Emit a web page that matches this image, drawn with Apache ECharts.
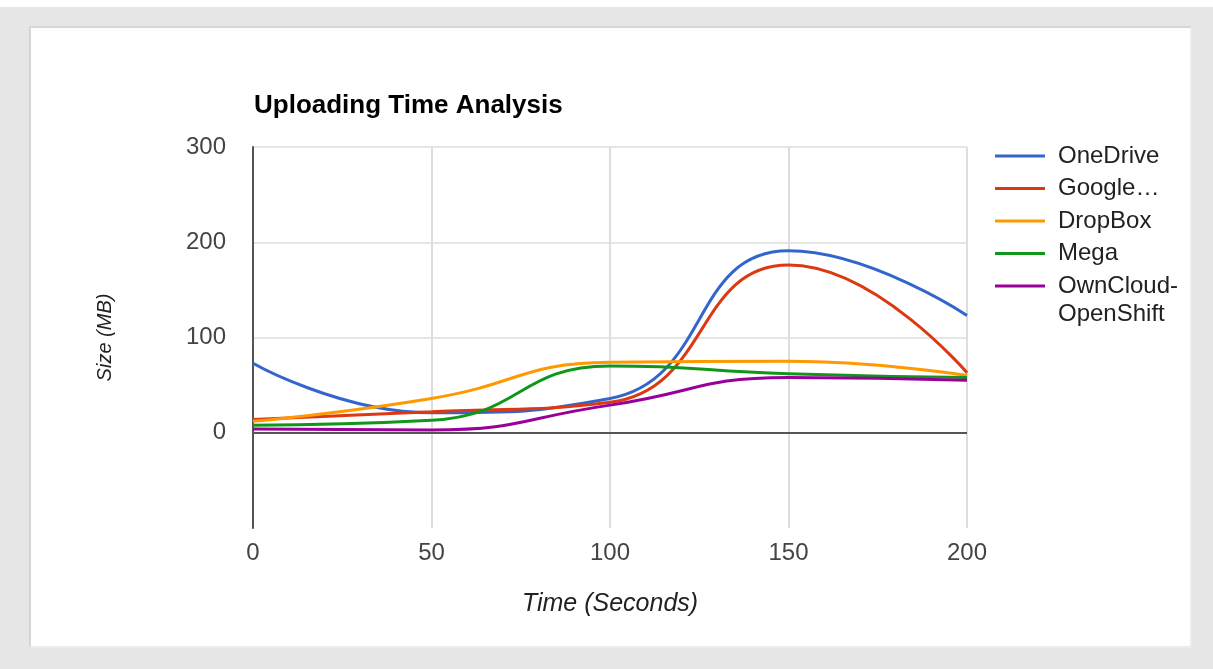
<!DOCTYPE html>
<html>
<head>
<meta charset="utf-8">
<script src="https://cdn.jsdelivr.net/npm/echarts@6/dist/echarts.min.js"></script>
<style>
  html, body { margin: 0; padding: 0; width: 1213px; height: 669px; background: #e6e6e6; overflow: hidden; }
  #topstrip { position: absolute; left: 0; top: 0; width: 1213px; height: 7px; background: #ffffff; }
  #panel { position: absolute; left: 29px; top: 26px; width: 1159px; height: 618px; background: #ffffff; border: 2px solid #d6d6d6; border-right-color: #ececec; border-bottom-color: #ececec; }
  #chart { position: absolute; left: 0; top: 0; width: 1213px; height: 669px; }
</style>
</head>
<body>
<div id="topstrip"></div>
<div id="panel"></div>
<div id="chart"></div>
<script>
const timeSeconds = [0, 50, 100, 150, 200];
const seriesNames = ['OneDrive', 'Google Drive', 'DropBox', 'Mega', 'OwnCloud-OpenShift'];
const oneDrive = [73, 21, 36, 191, 123];
const googleDrive = [14, 22, 32, 176, 63];
const dropBox = [12, 36, 74, 75, 60];
const mega = [8, 13, 70, 62, 58];
const ownCloud = [4, 3, 29, 58, 55];
const yTicks = [-100, 0, 100, 200, 300];
const xTicks = [0, 50, 100, 150, 200];

const values = [oneDrive, googleDrive, dropBox, mega, ownCloud];
const colors = ['#3366cc', '#dc3912', '#ff9900', '#109618', '#990099'];
const legendText = {
  'Google Drive': 'Google…',
  'OwnCloud-OpenShift': 'OwnCloud-'
};

const FONT = 'Liberation Sans, Arial, sans-serif';

const series = seriesNames.map((name, i) => ({
  name: name,
  type: 'line',
  smooth: true,
  showSymbol: false,
  symbol: 'none',
  color: colors[i],
  lineStyle: { width: 3, color: colors[i] },
  data: timeSeconds.map((t, k) => [t, values[i][k]]),
  z: 3
}));
series.push({
  name: '__zero',
  type: 'line',
  data: [],
  silent: true,
  z: 2,
  markLine: {
    silent: true,
    symbol: ['none', 'none'],
    label: { show: false },
    lineStyle: { color: '#555555', width: 2, type: 'solid' },
    data: [{ yAxis: 0 }]
  }
});

const chart = echarts.init(document.getElementById('chart'), null, { renderer: 'canvas' });
chart.setOption({
  backgroundColor: 'transparent',
  animation: false,
  title: {
    text: 'Uploading Time Analysis',
    left: 249,
    top: 88,
    textStyle: { fontFamily: FONT, fontSize: 26, fontWeight: 'bold', color: '#000000' }
  },
  legend: {
    orient: 'vertical',
    left: 995,
    top: 143,
    padding: 0,
    itemWidth: 50,
    itemHeight: 3,
    itemGap: 6.5,
    icon: 'rect',
    data: seriesNames,
    formatter: n => legendText[n] || n,
    textStyle: { fontFamily: FONT, fontSize: 24, color: '#222222', lineHeight: 26, padding: [0, 0, 0, 8] }
  },
  graphic: [{
    type: 'text',
    left: 1058,
    top: 302,
    silent: true,
    style: { text: 'OpenShift', font: '24px ' + FONT, fill: '#222222' }
  }],
  grid: { left: 253, right: 246, top: 147, bottom: 141, containLabel: false },
  xAxis: {
    type: 'value',
    min: xTicks[0],
    max: xTicks[xTicks.length - 1],
    interval: 50,
    name: 'Time (Seconds)',
    nameLocation: 'middle',
    nameGap: 64,
    nameTextStyle: { fontFamily: FONT, fontSize: 25, fontStyle: 'italic', color: '#222222' },
    axisLine: { show: false },
    axisTick: { show: false },
    axisLabel: { fontFamily: FONT, fontSize: 24, color: '#444444', margin: 13 },
    splitLine: { show: true, lineStyle: { color: '#dddddd', width: 2 } }
  },
  yAxis: {
    type: 'value',
    min: yTicks[0],
    max: yTicks[yTicks.length - 1],
    interval: 100,
    name: 'Size (MB)',
    nameLocation: 'middle',
    nameGap: 138,
    nameRotate: 90,
    nameTextStyle: { fontFamily: FONT, fontSize: 20, fontStyle: 'italic', color: '#222222' },
    axisLine: { show: true, lineStyle: { color: '#555555', width: 2 } },
    axisTick: { show: false },
    axisLabel: {
      fontFamily: FONT, fontSize: 24, color: '#444444', margin: 27,
      formatter: v => (v === yTicks[0] ? '' : String(v))
    },
    splitLine: { show: true, showMinLine: false, lineStyle: { color: '#dddddd', width: 1.5 } }
  },
  series: series
});
</script>
</body>
</html>
